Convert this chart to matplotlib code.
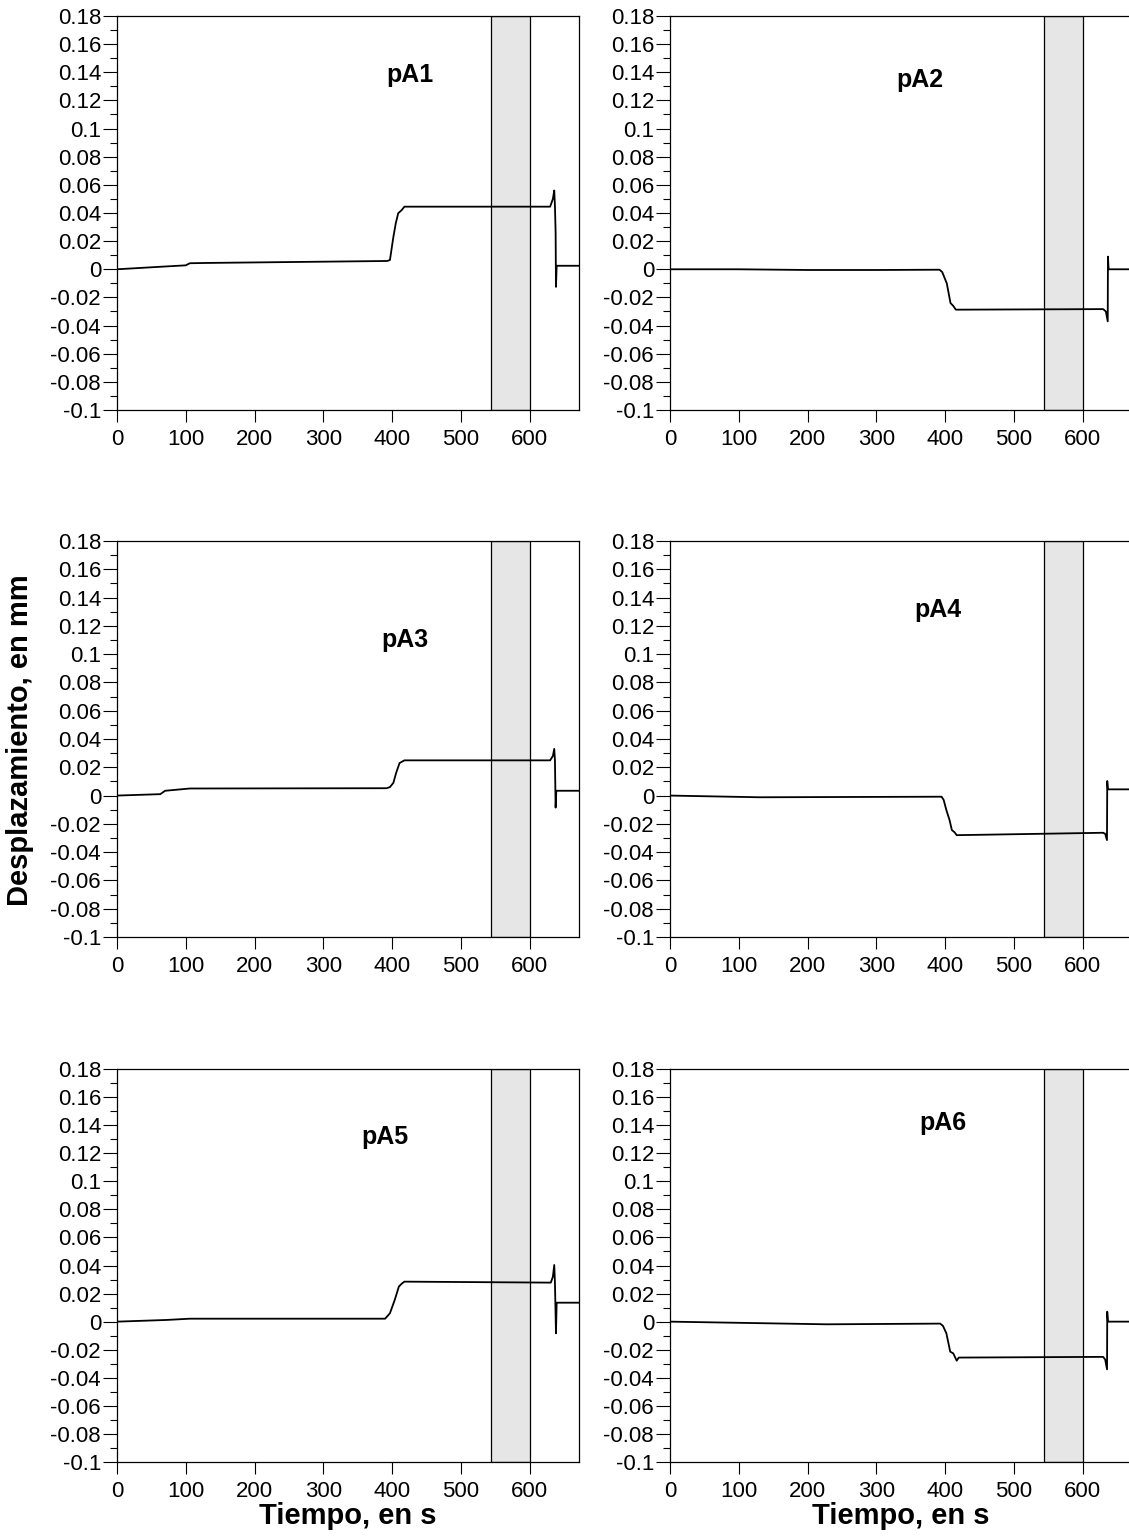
import matplotlib
matplotlib.use("Agg")
import matplotlib.pyplot as plt
from matplotlib.ticker import MultipleLocator, FixedLocator, FuncFormatter
from matplotlib.patches import Rectangle

plt.rcParams['font.family'] = ['Liberation Sans', 'DejaVu Sans']
plt.rcParams['axes.unicode_minus'] = False

# ---- data ----
names = ["pA1", "pA2", "pA3", "pA4", "pA5", "pA6"]

t_pA1 = [0, 67, 100, 106, 130, 393, 397, 402, 405.5, 409, 414, 418, 630, 634, 636, 637, 638, 638.5, 639.5, 672]
y_pA1 = [0, 0.0019, 0.0028, 0.0043, 0.0045, 0.0059, 0.0066, 0.023, 0.0327, 0.0398, 0.042, 0.0445, 0.0445, 0.05, 0.056, 0.045, 0.026, -0.0125, 0.0025, 0.0025]

t_pA2 = [0, 100, 200, 300, 392, 396, 402.6, 408, 412, 415.7, 630, 634, 636.7, 637, 638, 672]
y_pA2 = [0, 0, -0.0005, -0.0005, -0.0003, -0.002, -0.01, -0.024, -0.026, -0.0287, -0.0283, -0.03, -0.037, 0.009, 0.0, 0.0]

t_pA3 = [0, 63, 70, 106, 392, 397, 402, 406, 411, 418, 630, 634, 636, 637, 638, 639, 672]
y_pA3 = [0, 0.001, 0.0034, 0.005, 0.0052, 0.006, 0.009, 0.016, 0.023, 0.0249, 0.0249, 0.028, 0.033, 0.025, -0.0085, 0.0034, 0.0034]

t_pA4 = [0, 130, 395, 398, 402, 406.6, 410, 414, 417, 630, 633, 635.6, 636, 637, 672]
y_pA4 = [0, -0.0012, -0.0008, -0.003, -0.0103, -0.0173, -0.0244, -0.026, -0.028, -0.0263, -0.027, -0.0315, 0.0103, 0.0044, 0.0044]

t_pA5 = [0, 72, 106, 390, 397, 404, 410, 414, 418, 631, 634, 636, 637, 638.5, 639.5, 672]
y_pA5 = [0, 0.0012, 0.0021, 0.0021, 0.006, 0.0155, 0.025, 0.027, 0.0285, 0.0278, 0.032, 0.0404, 0.028, -0.0083, 0.0135, 0.0135]

t_pA6 = [0, 228, 393, 397, 402, 407.6, 412, 417, 420, 630, 633, 635.7, 636, 637, 672]
y_pA6 = [0, -0.0019, -0.0014, -0.003, -0.0083, -0.0214, -0.0226, -0.0278, -0.0256, -0.0251, -0.027, -0.034, 0.0071, 0.0, 0.0]

series_t = [t_pA1, t_pA2, t_pA3, t_pA4, t_pA5, t_pA6]
series_y = [y_pA1, y_pA2, y_pA3, y_pA4, y_pA5, y_pA6]

# label positions in data coords
label_t = [426, 364, 419, 389, 390, 397]
label_y = [0.138, 0.1345, 0.11, 0.131, 0.1315, 0.1415]

band_start, band_end = 543.5, 600
x_ticks = [0, 100, 200, 300, 400, 500, 600]
y_ticks = [0.18, 0.16, 0.14, 0.12, 0.1, 0.08, 0.06, 0.04, 0.02, 0, -0.02, -0.04, -0.06, -0.08, -0.1]
xlim = (0, 672)
ylim = (-0.1, 0.18)

W, H = 1129, 1539
fig = plt.figure(figsize=(W / 100, H / 100), dpi=100)

col_left = [117, 670]
ax_w = 462
rows = [(16, 410), (541, 937), (1069, 1462)]

def fmt(v, pos):
    s = ('%.2f' % v).rstrip('0').rstrip('.')
    if s in ('-0', ''):
        s = '0'
    return s

for i in range(6):
    r, c = divmod(i, 2)
    top, bot = rows[r]
    left = col_left[c]
    ax = fig.add_axes([left / W, 1 - bot / H, ax_w / W, (bot - top) / H])
    ax.set_xlim(*xlim)
    ax.set_ylim(*ylim)
    ax.add_patch(Rectangle((band_start, ylim[0]), band_end - band_start, ylim[1] - ylim[0],
                           facecolor='#e6e6e6', edgecolor='black', linewidth=0.9, zorder=1))
    ax.plot(series_t[i], series_y[i], color='black', linewidth=1.3, zorder=3)
    ax.text(label_t[i], label_y[i], names[i], fontsize=18, fontweight='bold',
            ha='center', va='center', zorder=4)
    ax.xaxis.set_major_locator(FixedLocator(x_ticks))
    ax.yaxis.set_major_locator(FixedLocator(y_ticks))
    ax.yaxis.set_minor_locator(MultipleLocator(0.01))
    ax.yaxis.set_major_formatter(FuncFormatter(fmt))
    ax.tick_params(axis='y', which='major', direction='out', length=10, width=0.8,
                   labelsize=16, pad=1.5)
    ax.tick_params(axis='y', which='minor', direction='out', length=5, width=0.8)
    ax.tick_params(axis='x', which='major', direction='out', length=8.5, width=0.8,
                   labelsize=16, pad=5)
    for sp in ax.spines.values():
        sp.set_linewidth(0.9)
    if r == 2:
        ax.set_xlabel('Tiempo, en s', fontsize=21, fontweight='bold', labelpad=0)

fig.text(20 / W, 1 - 740 / H, 'Desplazamiento, en mm', rotation=90, fontsize=21,
         fontweight='bold', ha='center', va='center')

fig.savefig('out.png', dpi=100)
